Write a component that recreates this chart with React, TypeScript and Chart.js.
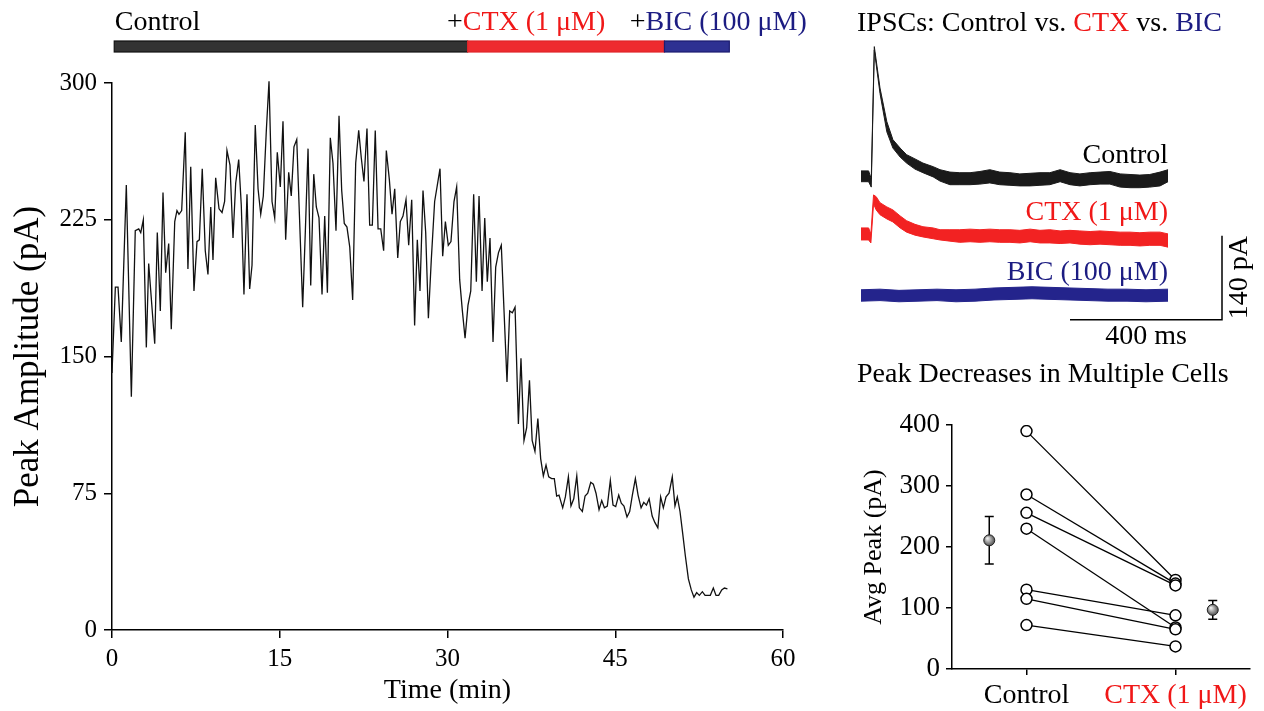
import React, { useEffect, useRef } from 'react';
import { Chart, registerables } from 'chart.js';
Chart.register(...registerables);

const FONT = "'Liberation Serif', 'Times New Roman', serif";
const RED = '#f01818';
const NAVY = '#1c1c82';

// ---------- Main time course ----------
const timeMin = [
  0, 0.3, 0.54, 0.83, 1.28, 1.73, 2.08, 2.39, 2.57, 2.8,
  3.07, 3.28, 3.82, 4.05, 4.32, 4.56, 4.8, 5.07, 5.3, 5.61,
  5.81, 5.99, 6.23, 6.55, 6.79, 7.04, 7.33, 7.6, 7.81, 8.07,
  8.34, 8.58, 8.83, 9.03, 9.27, 9.57, 9.84, 10.07, 10.28, 10.55,
  10.82, 11.06, 11.33, 11.56, 11.8, 12.07, 12.31, 12.52, 12.81, 13.06,
  13.3, 13.53, 13.8, 14.04, 14.31, 14.55, 14.78, 15.05, 15.29, 15.53,
  15.8, 16.03, 16.27, 16.52, 16.78, 17.05, 17.29, 17.53, 17.77, 18.04,
  18.27, 18.51, 18.78, 19.02, 19.26, 19.52, 19.76, 20.03, 20.3, 20.54,
  20.77, 21.01, 21.26, 21.52, 21.79, 22.06, 22.29, 22.53, 22.8, 23.04,
  23.28, 23.54, 23.79, 24.03, 24.29, 24.53, 24.8, 25.04, 25.28, 25.55,
  25.78, 26.02, 26.29, 26.53, 26.8, 27.06, 27.3, 27.54, 27.81, 28.05,
  28.29, 28.55, 28.85, 29.09, 29.33, 29.57, 29.81, 30.07, 30.31, 30.58,
  30.82, 31.09, 31.33, 31.57, 31.83, 32.08, 32.34, 32.58, 32.82, 33.09,
  33.33, 33.56, 33.8, 34.07, 34.31, 34.56, 34.81, 35.32, 35.56, 35.8,
  36.04, 36.34, 36.57, 36.84, 37.08, 37.33, 37.57, 37.82, 38.08, 38.33,
  38.57, 38.81, 39.05, 39.31, 39.55, 39.76, 39.97, 40.3, 40.54, 40.81,
  41.04, 41.29, 41.56, 41.79, 42.06, 42.3, 42.54, 42.81, 43.04, 43.28,
  43.55, 43.79, 44.03, 44.29, 44.56, 44.8, 45.04, 45.31, 45.54, 45.78,
  46.05, 46.29, 46.53, 46.8, 47.04, 47.31, 47.55, 47.79, 48.03, 48.3,
  48.54, 48.81, 49.06, 49.3, 49.54, 49.81, 50.1, 50.34, 50.55, 50.79,
  51.03, 51.27, 51.54, 51.8, 52.04, 52.28, 52.52, 52.79, 53.03, 53.27,
  53.5, 53.77, 54.01, 54.25, 54.52, 54.76, 55.03,
];
const peakAmp = [
  141, 188, 188, 158, 244, 128, 219, 220, 218, 225,
  155, 201, 157, 218, 175, 240, 196, 212, 165, 224,
  230, 228, 230, 273, 198, 254, 186, 213, 214, 253,
  208, 195, 232, 203, 248, 231, 229, 235, 263, 255,
  215, 245, 258, 233, 184, 239, 187, 200, 277, 242,
  228, 238, 274, 301, 235, 226, 262, 243, 279, 214,
  251, 238, 265, 269, 224, 177, 219, 264, 189, 250,
  232, 226, 184, 227, 185, 270, 256, 219, 282, 241,
  223, 221, 210, 181, 256, 274, 259, 246, 275, 222,
  222, 274, 220, 220, 208, 263, 247, 228, 242, 204,
  224, 227, 236, 211, 236, 167, 214, 186, 241, 218,
  171, 203, 235, 244, 253, 205, 224, 211, 213, 235,
  243, 192, 175, 160, 178, 186, 239, 191, 238, 186,
  226, 191, 215, 158, 199, 207, 211, 136, 175, 174,
  177, 113, 149, 104, 111, 137, 104, 98, 116, 94,
  84.5, 90.5, 84, 83, 83, 73.5, 74, 67, 73, 84,
  68, 72, 84.5, 67, 65, 73.5, 75, 81, 80, 75,
  66, 71, 67, 68, 82, 68.5, 67.7, 74, 69.5, 68,
  62, 65, 74, 83, 74, 67, 70, 68.5, 72, 62.5,
  59, 56, 73, 67, 73, 75, 84, 68, 73, 65,
  53, 40.6, 28, 22, 18, 20.5, 19, 21, 19, 19,
  19, 23, 19, 19, 22, 23, 22.5,
];
const mainXTicks = [0, 15, 30, 45, 60];
const mainYTicks = [0, 75, 150, 225, 300];

const phaseNames = ['Control', 'CTX (1 μM)', 'BIC (100 μM)'];
const phaseStart = [0.2, 31.8, 49.4];
const phaseEnd = [31.8, 49.4, 55.2];
const phaseLabelAt = [0.25, 29.95, 46.3];
const phaseFill = ['#333333', '#ee2a2f', '#2e3192'];
const phaseStroke = ['#111111', '#e0262b', '#1c1c70'];
const phaseText = ['#000000', RED, NAVY];

// ---------- IPSC traces ----------
const ctrlT = [0, 20, 27, 35, 50, 68, 84, 103, 120, 142, 163, 190, 208, 234, 260, 287, 313, 339, 365, 392, 418, 445, 471, 497, 524, 550, 576, 603, 629, 655, 682, 708, 734, 760, 787, 808];
const ctrlHi = [265, 265, 252, 472, 403, 347, 317, 303, 292, 285, 278, 272, 267, 263, 262, 262, 264, 267, 263, 262, 260, 261, 262, 262, 267, 262, 260, 262, 263, 264, 260, 259, 258, 259, 263, 267];
const ctrlLo = [247, 247, 238, 466, 394, 330, 303, 288, 278, 268, 262, 255, 248, 242, 242, 242, 243, 245, 242, 241, 240, 240, 241, 242, 247, 242, 240, 242, 243, 243, 238, 237, 237, 238, 240, 247];

const ctxT = [0, 20, 26, 33, 40, 50, 68, 84, 103, 120, 142, 163, 190, 208, 234, 260, 287, 313, 339, 365, 392, 418, 445, 471, 497, 524, 550, 576, 603, 629, 655, 682, 708, 734, 760, 787, 808];
const ctxHi = [170, 170, 160, 225, 222, 212, 205, 200, 190, 182, 176, 172, 170, 167, 167, 167, 168, 167, 168, 167, 167, 166, 168, 166, 167, 165, 166, 165, 164, 165, 164, 163, 163, 162, 163, 163, 160];
const ctxLo = [150, 150, 145, 210, 200, 192, 185, 180, 170, 163, 158, 155, 152, 150, 148, 146, 147, 146, 147, 146, 146, 145, 147, 145, 145, 144, 145, 143, 142, 143, 142, 141, 141, 140, 141, 141, 138];

const bicT = [0, 50, 100, 150, 200, 250, 300, 350, 400, 450, 500, 550, 600, 650, 700, 750, 808];
const bicHi = [67, 68, 66, 67, 68, 67, 68, 70, 71, 72, 71, 70, 69, 68, 68, 67, 68];
const bicLo = [48, 49, 47, 48, 49, 47, 48, 50, 51, 52, 51, 50, 49, 48, 48, 47, 48];

const traceNames = ['Control', 'CTX (1 μM)', 'BIC (100 μM)'];
const traceLabelY = [278, 183, 83];
const scaleBarMs = 400;
const scaleBarPa = 140;
const scaleBarEndMs = 950;
const scaleBarBasePa = 17;

// ---------- Paired cells ----------
const groupNames = ['Control', 'CTX (1 μM)'];
const ctrlPeaks = [390, 286, 256, 230, 130, 115, 72];
const ctxPeaks = [146, 140, 137, 68, 88, 65, 37];
const meanX = [0.75, 2.25];
const meanVal = [211, 97];
const semVal = [39, 15.5];
const dotYTicks = [0, 100, 200, 300, 400];

function drawRich(ctx: CanvasRenderingContext2D, parts: [string, string][], x: number, y: number, align = 'left') {
  const total = parts.reduce((s, [t]) => s + ctx.measureText(t).width, 0);
  let cx = align === 'right' ? x - total : align === 'center' ? x - total / 2 : x;
  ctx.textAlign = 'left';
  for (const [t, c] of parts) {
    ctx.fillStyle = c;
    ctx.fillText(t, cx, y);
    cx += ctx.measureText(t).width;
  }
}

const axisCommon = (tickLen: number) => ({
  grid: { drawOnChartArea: false, drawTicks: true, tickLength: tickLen, color: '#000', lineWidth: 1.5 },
  border: { display: true, color: '#000', width: 1.5 },
});

function makeMain(): any {
  const data = timeMin.map((t, i) => ({ x: t, y: peakAmp[i] }));
  const topPlugin = {
    id: 'topBar',
    afterDraw(chart: any) {
      const { ctx } = chart;
      const xs = chart.scales.x;
      ctx.save();
      for (let i = 0; i < phaseStart.length; i++) {
        const x0 = xs.getPixelForValue(phaseStart[i]);
        const x1 = xs.getPixelForValue(phaseEnd[i]);
        ctx.fillStyle = phaseFill[i];
        ctx.fillRect(x0, 41, x1 - x0, 11);
        ctx.strokeStyle = phaseStroke[i];
        ctx.lineWidth = 1.2;
        ctx.strokeRect(x0, 41, x1 - x0, 11);
      }
      ctx.font = `28px ${FONT}`;
      ctx.textBaseline = 'alphabetic';
      for (let i = 0; i < phaseNames.length; i++) {
        const parts: [string, string][] = i === 0
          ? [[phaseNames[i], phaseText[i]]]
          : [['+', '#000'], [phaseNames[i], phaseText[i]]];
        drawRich(ctx, parts, xs.getPixelForValue(phaseLabelAt[i]), 30);
      }
      ctx.restore();
    },
  };
  return {
    type: 'line',
    data: { datasets: [{ data, borderColor: '#111', borderWidth: 1.3, pointRadius: 0, tension: 0, fill: false, clip: 6 }] },
    options: {
      animation: false,
      responsive: false,
      maintainAspectRatio: false,
      layout: { padding: { top: 83, right: 47, left: 0, bottom: 0 } },
      plugins: { legend: { display: false }, tooltip: { enabled: false } },
      scales: {
        x: {
          type: 'linear', min: 0, max: 60,
          afterBuildTicks: (s: any) => { s.ticks = mainXTicks.map((v) => ({ value: v })); },
          ticks: { font: { family: FONT, size: 25 }, color: '#000', padding: 6, maxRotation: 0, autoSkip: false },
          ...axisCommon(8),
          title: { display: true, text: 'Time (min)', font: { family: FONT, size: 28 }, color: '#000', padding: { top: 0, bottom: 4 } },
          afterFit: (s: any) => { s.height = 81; },
        },
        y: {
          type: 'linear', min: 0, max: 300,
          afterBuildTicks: (s: any) => { s.ticks = mainYTicks.map((v) => ({ value: v })); },
          ticks: { font: { family: FONT, size: 25 }, color: '#000', padding: 7, autoSkip: false },
          ...axisCommon(8),
          title: { display: true, text: 'Peak Amplitude (pA)', font: { family: FONT, size: 35 }, color: '#000', padding: { top: 8, bottom: 0 } },
          afterFit: (s: any) => { s.width = 112; },
        },
      },
    },
    plugins: [topPlugin],
  };
}

function makeTraces(): any {
  const mk = (t: number[], v: number[]) => t.map((x, i) => ({ x, y: v[i] }));
  const band = (t: number[], lo: number[], hi: number[], color: string) => [
    { data: mk(t, lo), borderColor: color, borderWidth: 1, pointRadius: 0, fill: false, tension: 0 },
    { data: mk(t, hi), borderColor: color, borderWidth: 1, pointRadius: 0, fill: '-1', backgroundColor: color, tension: 0 },
  ];
  const colors = ['#1a1a1a', '#f22222', '#24248c'];
  const textColors = ['#000', RED, NAVY];
  const plugin = {
    id: 'traceDecor',
    afterDraw(chart: any) {
      const { ctx } = chart;
      const xs = chart.scales.x;
      const ys = chart.scales.y;
      ctx.save();
      ctx.font = `28px ${FONT}`;
      ctx.textBaseline = 'alphabetic';
      drawRich(ctx, [['IPSCs: Control vs. ', '#000'], ['CTX', RED], [' vs. ', '#000'], ['BIC', NAVY]], 17, 31);
      const rx = xs.getPixelForValue(808);
      for (let i = 0; i < traceNames.length; i++) {
        drawRich(ctx, [[traceNames[i], textColors[i]]], rx, ys.getPixelForValue(traceLabelY[i]), 'right');
      }
      const xe = xs.getPixelForValue(scaleBarEndMs);
      const xb = xs.getPixelForValue(scaleBarEndMs - scaleBarMs);
      const yb = ys.getPixelForValue(scaleBarBasePa);
      const yt = ys.getPixelForValue(scaleBarBasePa + scaleBarPa);
      ctx.strokeStyle = '#000';
      ctx.lineWidth = 1.5;
      ctx.beginPath();
      ctx.moveTo(xb, yb);
      ctx.lineTo(xe, yb);
      ctx.lineTo(xe, yt);
      ctx.stroke();
      ctx.fillStyle = '#000';
      ctx.textAlign = 'center';
      ctx.fillText(`${scaleBarMs} ms`, (xb + xe) / 2, yb + 24);
      ctx.translate(xe + 18, (yb + yt) / 2);
      ctx.rotate(-Math.PI / 2);
      ctx.textBaseline = 'middle';
      ctx.fillText(`${scaleBarPa} pA`, 0, 0);
      ctx.restore();
    },
  };
  return {
    type: 'line',
    data: {
      datasets: [
        ...band(ctrlT, ctrlLo, ctrlHi, colors[0]),
        ...band(ctxT, ctxLo, ctxHi, colors[1]),
        ...band(bicT, bicLo, bicHi, colors[2]),
      ],
    },
    options: {
      animation: false,
      responsive: false,
      maintainAspectRatio: false,
      layout: { padding: { left: 21, right: 42, top: 40, bottom: 20 } },
      plugins: { legend: { display: false }, tooltip: { enabled: false } },
      scales: {
        x: { type: 'linear', min: 0, max: 950, display: false },
        y: { type: 'linear', min: 0, max: 483, display: false },
      },
    },
    plugins: [plugin],
  };
}

function makeDots(): any {
  const pairSets = ctrlPeaks.map((c, i) => ({
    data: [{ x: 1, y: c }, { x: 2, y: ctxPeaks[i] }],
    borderColor: '#000', borderWidth: 1.3, pointRadius: 0, fill: false, order: 2,
  }));
  const pts = [
    ...ctrlPeaks.map((v) => ({ x: 1, y: v })),
    ...ctxPeaks.map((v) => ({ x: 2, y: v })),
  ];
  const plugin = {
    id: 'dotDecor',
    afterDraw(chart: any) {
      const { ctx } = chart;
      const xs = chart.scales.x;
      const ys = chart.scales.y;
      ctx.save();
      ctx.font = `28px ${FONT}`;
      ctx.textBaseline = 'alphabetic';
      drawRich(ctx, [['Peak Decreases in Multiple Cells', '#000']], 17, 32);
      for (let i = 0; i < meanX.length; i++) {
        const px = xs.getPixelForValue(meanX[i]);
        const py = ys.getPixelForValue(meanVal[i]);
        const ph = ys.getPixelForValue(meanVal[i] + semVal[i]);
        const pl = ys.getPixelForValue(meanVal[i] - semVal[i]);
        ctx.strokeStyle = '#000';
        ctx.lineWidth = 1.5;
        ctx.beginPath();
        ctx.moveTo(px, ph); ctx.lineTo(px, pl);
        ctx.moveTo(px - 4.5, ph); ctx.lineTo(px + 4.5, ph);
        ctx.moveTo(px - 4.5, pl); ctx.lineTo(px + 4.5, pl);
        ctx.stroke();
        const g = ctx.createRadialGradient(px - 2, py - 2, 0.5, px, py, 6);
        g.addColorStop(0, '#eeeeee');
        g.addColorStop(1, '#444444');
        ctx.fillStyle = g;
        ctx.beginPath();
        ctx.arc(px, py, 5.5, 0, Math.PI * 2);
        ctx.fill();
        ctx.strokeStyle = '#222';
        ctx.lineWidth = 1;
        ctx.stroke();
      }
      ctx.restore();
    },
  };
  return {
    type: 'line',
    data: {
      datasets: [
        ...pairSets,
        {
          data: pts, showLine: false, pointRadius: 5.5, pointBackgroundColor: '#fff',
          pointBorderColor: '#000', pointBorderWidth: 1.5, order: 1,
        },
      ],
    },
    options: {
      animation: false,
      responsive: false,
      maintainAspectRatio: false,
      layout: { padding: { top: 75, right: 14, left: 0, bottom: 0 } },
      plugins: { legend: { display: false }, tooltip: { enabled: false } },
      scales: {
        x: {
          type: 'linear', min: 0.5, max: 2.5,
          afterBuildTicks: (s: any) => { s.ticks = [{ value: 1 }, { value: 2 }]; },
          ticks: {
            callback: (v: number) => groupNames[Math.round(v) - 1],
            color: (c: any) => (c.index === 1 ? RED : '#000'),
            font: { family: FONT, size: 28 }, padding: 4, maxRotation: 0, autoSkip: false,
          },
          ...axisCommon(6),
          afterFit: (s: any) => { s.height = 42; },
        },
        y: {
          type: 'linear', min: 0, max: 400,
          afterBuildTicks: (s: any) => { s.ticks = dotYTicks.map((v) => ({ value: v })); },
          ticks: { font: { family: FONT, size: 27 }, color: '#000', padding: 6, autoSkip: false },
          ...axisCommon(6),
          title: { display: true, text: 'Avg Peak (pA)', font: { family: FONT, size: 26 }, color: '#000', padding: { top: 19, bottom: 0 } },
          afterFit: (s: any) => { s.width = 112; },
        },
      },
    },
    plugins: [plugin],
  };
}

function ChartBox({ left, top, width, height, make }: any) {
  const ref = useRef<HTMLCanvasElement>(null);
  useEffect(() => {
    const chart = new Chart(ref.current as HTMLCanvasElement, make());
    return () => chart.destroy();
  }, []);
  return (
    <canvas
      ref={ref}
      width={width}
      height={height}
      style={{ position: 'absolute', left, top, width, height }}
    />
  );
}

export default function App() {
  return (
    <div style={{ position: 'absolute', left: 0, top: 0, width: 1264, height: 711, background: '#fff', overflow: 'hidden' }}>
      <ChartBox left={0} top={0} width={830} height={711} make={makeMain} />
      <ChartBox left={840} top={0} width={424} height={350} make={makeTraces} />
      <ChartBox left={840} top={350} width={424} height={361} make={makeDots} />
    </div>
  );
}
